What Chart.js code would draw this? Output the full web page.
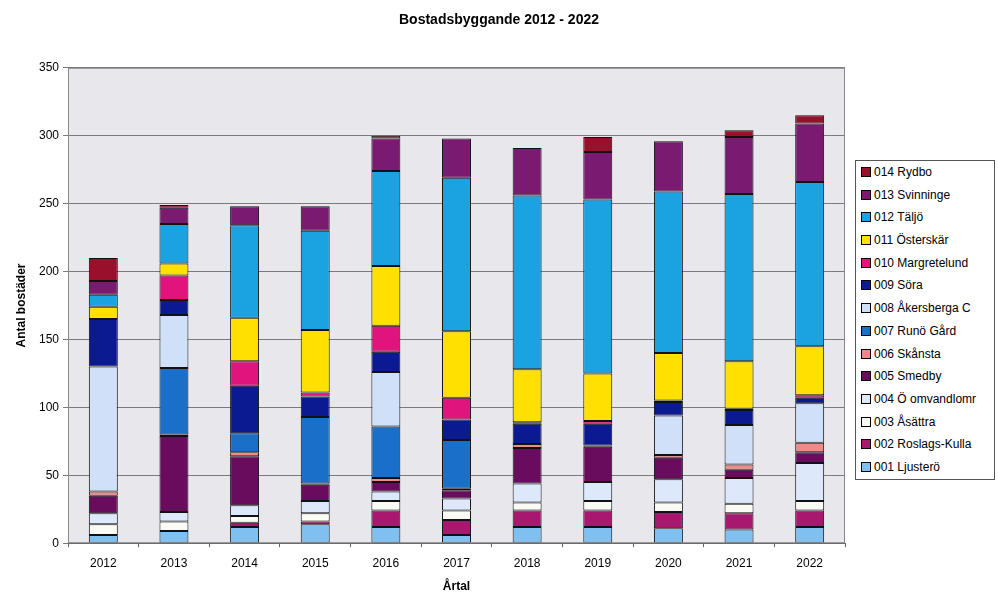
<!DOCTYPE html>
<html>
<head>
<meta charset="utf-8">
<script src="https://cdn.jsdelivr.net/npm/chart.js@4"></script>
<style>
html,body{margin:0;padding:0;background:#ffffff;}
#wrap{position:relative;width:998px;height:594px;}
#legend{position:absolute;left:855px;top:160px;width:140px;height:320px;box-sizing:border-box;border:1px solid #555;background:#fff;font-family:"Liberation Sans",Arial,sans-serif;font-size:12px;color:#000;padding-top:0px;}
.li{height:22.7px;line-height:22.7px;padding-left:5px;white-space:nowrap;}
.sw{display:inline-block;width:8px;height:8px;border:1px solid #000;margin-right:3px;vertical-align:-1px;}
</style>
</head>
<body>
<div id="wrap"><canvas id="c" width="998" height="594"></canvas><div id="legend"></div></div>
<script>
const years = ['2012','2013','2014','2015','2016','2017','2018','2019','2020','2021','2022'];
const yTicks = [0,50,100,150,200,250,300,350];
const names = ['001 Ljusterö','002 Roslags-Kulla','003 Åsättra','004 Ö omvandlomr','005 Smedby','006 Skånsta','007 Runö Gård','008 Åkersberga C','009 Söra','010 Margretelund','011 Österskär','012 Täljö','013 Svinninge','014 Rydbo'];
const s001 = [6, 9, 12, 14, 12, 6, 12, 12, 11, 10, 12];
const s002 = [0, 0, 3, 2, 12, 11, 12, 12, 12, 12, 12];
const s003 = [8, 7, 5, 6, 7, 7, 6, 7, 7, 7, 7];
const s004 = [8, 7, 8, 9, 7, 9, 14, 14, 17, 19, 28];
const s005 = [13, 56, 36, 12, 7, 6, 26, 26, 16, 6, 8];
const s006 = [3, 1, 3, 1, 3, 1, 3, 1, 2, 4, 7];
const s007 = [0, 49, 14, 49, 38, 36, 0, 0, 0, 0, 0];
const s008 = [92, 39, 0, 0, 40, 0, 0, 0, 29, 29, 29];
const s009 = [35, 11, 35, 15, 15, 15, 15, 16, 10, 11, 4];
const s010 = [0, 18, 18, 3, 19, 16, 1, 2, 1, 1, 2];
const s011 = [9, 9, 32, 46, 44, 49, 39, 35, 35, 35, 36];
const s012 = [9, 29, 68, 73, 70, 113, 128, 128, 119, 123, 121];
const s013 = [10, 12, 14, 18, 24, 29, 35, 35, 37, 42, 43];
const s014 = [17, 2, 0, 0, 2, 0, 0, 11, 0, 5, 6];
const series = [s001,s002,s003,s004,s005,s006,s007,s008,s009,s010,s011,s012,s013,s014];
const colors = ['#80c0f0','#a8186e','#fbfbf6','#dde9fa','#6a0c5e','#f08a88','#1a70c8','#cfe0f8','#0c1a92','#e0147c','#ffe000','#1ba2e0','#7a1a70','#98102c'];

const FONT = '"Liberation Sans", Arial, sans-serif';
const datasets = series.map((arr,i)=>({
  label: names[i],
  data: arr.map(v => v === 0 ? null : v),
  backgroundColor: colors[i],
  borderColor: '#111',
  borderWidth: 1,
  borderSkipped: false,
  barPercentage: 0.41,
  categoryPercentage: 1.0
}));

const bgPlugin = {
  id:'bg',
  beforeDraw(chart){
    const {ctx, chartArea:a} = chart;
    ctx.save();
    ctx.fillStyle = '#e7e7ec';
    ctx.fillRect(a.left, a.top, a.right-a.left, a.bottom-a.top);
    ctx.restore();
  },
  afterDatasetsDraw(chart){
    const {ctx, chartArea:a} = chart;
    ctx.save();
    ctx.strokeStyle = '#888';
    ctx.lineWidth = 1;
    ctx.strokeRect(a.left+0.5, a.top+0.5, a.right-a.left-1, a.bottom-a.top-1);
    ctx.restore();
  }
};

new Chart(document.getElementById('c'), {
  type:'bar',
  data:{labels: years, datasets},
  plugins:[bgPlugin],
  options:{
    responsive:false,
    animation:false,
    layout:{padding:{left:0,right:0,top:12,bottom:0}},
    plugins:{
      legend:{display:false},
      tooltip:{enabled:false},
      title:{display:true,text:'Bostadsbyggande 2012 - 2022',color:'#000',font:{family:FONT,size:14,weight:'bold'},padding:{top:0,bottom:39}}
    },
    scales:{
      x:{
        stacked:true,
        grid:{display:true,drawOnChartArea:false,drawTicks:true,tickLength:4,color:'#666'},
        border:{display:true,color:'#666'},
        ticks:{color:'#000',font:{family:FONT,size:12},padding:9},
        title:{display:true,text:'Årtal',color:'#000',font:{family:FONT,size:12,weight:'bold'},padding:{top:0,bottom:0}}
      },
      y:{
        stacked:true,
        min:0,max:350,
        afterBuildTicks(scale){ scale.ticks = yTicks.map(v=>({value:v})); },
        afterFit(scale){ scale.width = 68; },
        grid:{color:'#7a7a7a',lineWidth:1,tickLength:5,drawTicks:true},
        border:{display:true,color:'#666'},
        ticks:{color:'#000',font:{family:FONT,size:12},padding:4},
        title:{display:true,text:'Antal bostäder',color:'#000',font:{family:FONT,size:12,weight:'bold'},padding:{top:14,bottom:0}}
      },
      yR:{
        position:'right',
        display:true,
        min:0,max:350,
        grid:{display:false},
        border:{display:false},
        ticks:{display:false},
        afterFit(scale){ scale.width = 153; }
      }
    }
  }
});

const leg = document.getElementById('legend');
for (let i = names.length-1; i >= 0; i--) {
  const d = document.createElement('div');
  d.className = 'li';
  const s = document.createElement('span');
  s.className = 'sw';
  s.style.background = colors[i];
  d.appendChild(s);
  d.appendChild(document.createTextNode(names[i]));
  leg.appendChild(d);
}
</script>
</body>
</html>
